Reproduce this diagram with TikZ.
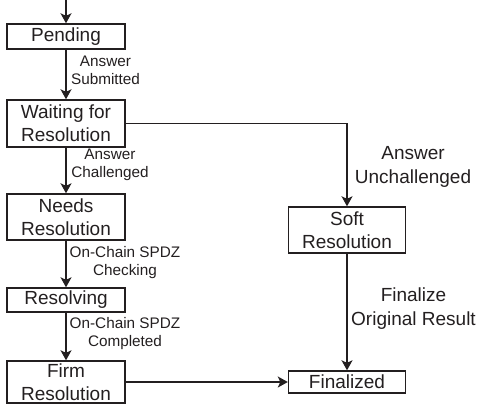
\documentclass[tikz,border=0pt]{standalone}
\usepackage{fontspec}
\setmainfont{Liberation Sans}
\usetikzlibrary{arrows.meta}
\definecolor{ink}{HTML}{231F20}
\begin{document}
\begin{tikzpicture}[x=1pt,y=-1pt,
  statebox/.style={draw=ink, line width=1.4pt, minimum width=118pt, inner sep=0pt, align=center,
    text=ink, font=\fontsize{19}{23}\selectfont},
  arr/.style={draw=ink, line width=1.4pt, -{Stealth[length=10pt,width=11pt,inset=2.5pt]}},
  smalllab/.style={align=center, text=ink, inner sep=0pt, font=\fontsize{15.3}{18}\selectfont},
  biglab/.style={align=center, text=ink, inner sep=0pt, font=\fontsize{19}{24}\selectfont}]
\useasboundingbox (0,0) rectangle (478,405);
\node[statebox, minimum height=25pt] (pend) at (66,36.5) {Pending};
\node[statebox, minimum height=47pt] (wait) at (66,123.5) {Waiting for\\Resolution};
\node[statebox, minimum height=46pt] (needs) at (66,217) {Needs\\Resolution};
\node[statebox, minimum height=24pt] (resolv) at (66,300) {Resolving};
\node[statebox, minimum height=42pt] (firm) at (66,382) {Firm\\Resolution};
\node[statebox, minimum width=117pt, minimum height=46pt] (soft) at (347,230) {Soft\\Resolution};
\node[statebox, minimum width=117pt, minimum height=22pt] (fin) at (347,382) {Finalized};
\coordinate (start) at (66,0);
\draw[arr] (start) -- (pend.north);
\draw[arr] (pend.south) -- (wait.north);
\draw[arr] (wait.south) -- (needs.north);
\draw[arr] (needs.south) -- (resolv.north);
\draw[arr] (resolv.south) -- (firm.north);
\draw[arr] (wait.east) -| (soft.north);
\draw[arr] (soft.south) -- (fin.north);
\draw[arr] (firm.east) -- (fin.west);
\node[smalllab] (l1) at (105.5,70) {Answer\\Submitted};
\node[smalllab] (l2) at (110,165) {Answer\\Challenged};
\node[smalllab] (l3) at (125,263) {On-Chain SPDZ\\Checking};
\node[smalllab] (l4) at (125,334) {On-Chain SPDZ\\Completed};
\node[biglab] (l5) at (413,167) {Answer\\Unchallenged};
\node[biglab] (l6) at (413.5,309) {Finalize\\Original Result};
\end{tikzpicture}
\end{document}
